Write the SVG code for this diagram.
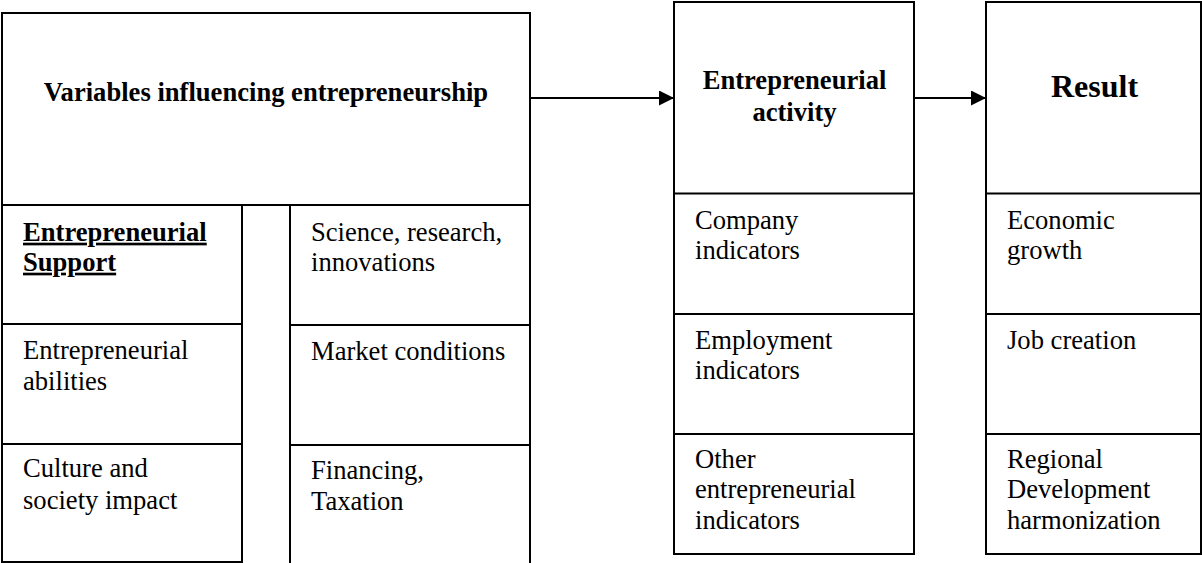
<svg xmlns="http://www.w3.org/2000/svg" width="1202" height="563" viewBox="0 0 1202 563">
<style>
.box{fill:#fff;stroke:#000;stroke-width:2}
.ln{stroke:#000;stroke-width:2;fill:none}
.t{font-family:"Liberation Serif","Times New Roman",serif;font-size:26.6px;fill:#000}
.b{font-weight:bold}
.c{text-anchor:middle}
</style>
<defs>
<marker id="ah" markerWidth="15" markerHeight="15" refX="15" refY="7.5" orient="auto" markerUnits="userSpaceOnUse">
<path d="M0,0 L15,7.5 L0,15 Z" fill="#000"/>
</marker>
</defs>
<rect x="0" y="0" width="1202" height="563" fill="#fff"/>
<g id="variables">
<rect class="box" x="2" y="13" width="528" height="192"/>
<text class="t b c" x="266" y="101">Variables influencing entrepreneurship</text>
</g>
<g id="left-column">
<rect class="box" x="2" y="205" width="240" height="357"/>
<line class="ln" x1="2" y1="324" x2="242" y2="324"/>
<line class="ln" x1="2" y1="444" x2="242" y2="444"/>
<text class="t b" x="23" y="240.7" text-decoration="underline">Entrepreneurial</text>
<text class="t b" x="23" y="270.7" text-decoration="underline">Support</text>
<text class="t" x="23" y="358.7">Entrepreneurial</text>
<text class="t" x="23" y="390">abilities</text>
<text class="t" x="23" y="477.3">Culture and</text>
<text class="t" x="23" y="509.3">society impact</text>
</g>
<g id="right-column">
<rect class="box" x="290" y="205" width="240" height="359"/>
<line class="ln" x1="290" y1="325" x2="530" y2="325"/>
<line class="ln" x1="290" y1="445" x2="530" y2="445"/>
<text class="t" x="311" y="240.7">Science, research,</text>
<text class="t" x="311" y="270.7">innovations</text>
<text class="t" x="311" y="360">Market conditions</text>
<text class="t" x="311" y="478.7">Financing,</text>
<text class="t" x="311" y="510">Taxation</text>
</g>
<g id="activity">
<rect class="box" x="674" y="2" width="240" height="552"/>
<line class="ln" x1="674" y1="193.5" x2="914" y2="193.5"/>
<line class="ln" x1="674" y1="314" x2="914" y2="314"/>
<line class="ln" x1="674" y1="434" x2="914" y2="434"/>
<text class="t b c" x="794.5" y="89.3">Entrepreneurial</text>
<text class="t b c" x="794.5" y="120.7">activity</text>
<text class="t" x="695" y="229.3">Company</text>
<text class="t" x="695" y="259.3">indicators</text>
<text class="t" x="695" y="349.3">Employment</text>
<text class="t" x="695" y="379.3">indicators</text>
<text class="t" x="695" y="468.3">Other</text>
<text class="t" x="695" y="498.3">entrepreneurial</text>
<text class="t" x="695" y="529.3">indicators</text>
</g>
<g id="result">
<rect class="box" x="986" y="2" width="215" height="552"/>
<line class="ln" x1="986" y1="193.5" x2="1201" y2="193.5"/>
<line class="ln" x1="986" y1="314" x2="1201" y2="314"/>
<line class="ln" x1="986" y1="434" x2="1201" y2="434"/>
<text class="t b c" x="1094.5" y="97" style="font-size:32px">Result</text>
<text class="t" x="1007" y="229.3">Economic</text>
<text class="t" x="1007" y="259.3">growth</text>
<text class="t" x="1007" y="349.3">Job creation</text>
<text class="t" x="1007" y="468.3">Regional</text>
<text class="t" x="1007" y="498.3">Development</text>
<text class="t" x="1007" y="529.3">harmonization</text>
</g>
<g id="connectors">
<line class="ln" x1="530" y1="98" x2="674" y2="98" marker-end="url(#ah)"/>
<line class="ln" x1="914" y1="98" x2="986" y2="98" marker-end="url(#ah)"/>
</g>
</svg>
